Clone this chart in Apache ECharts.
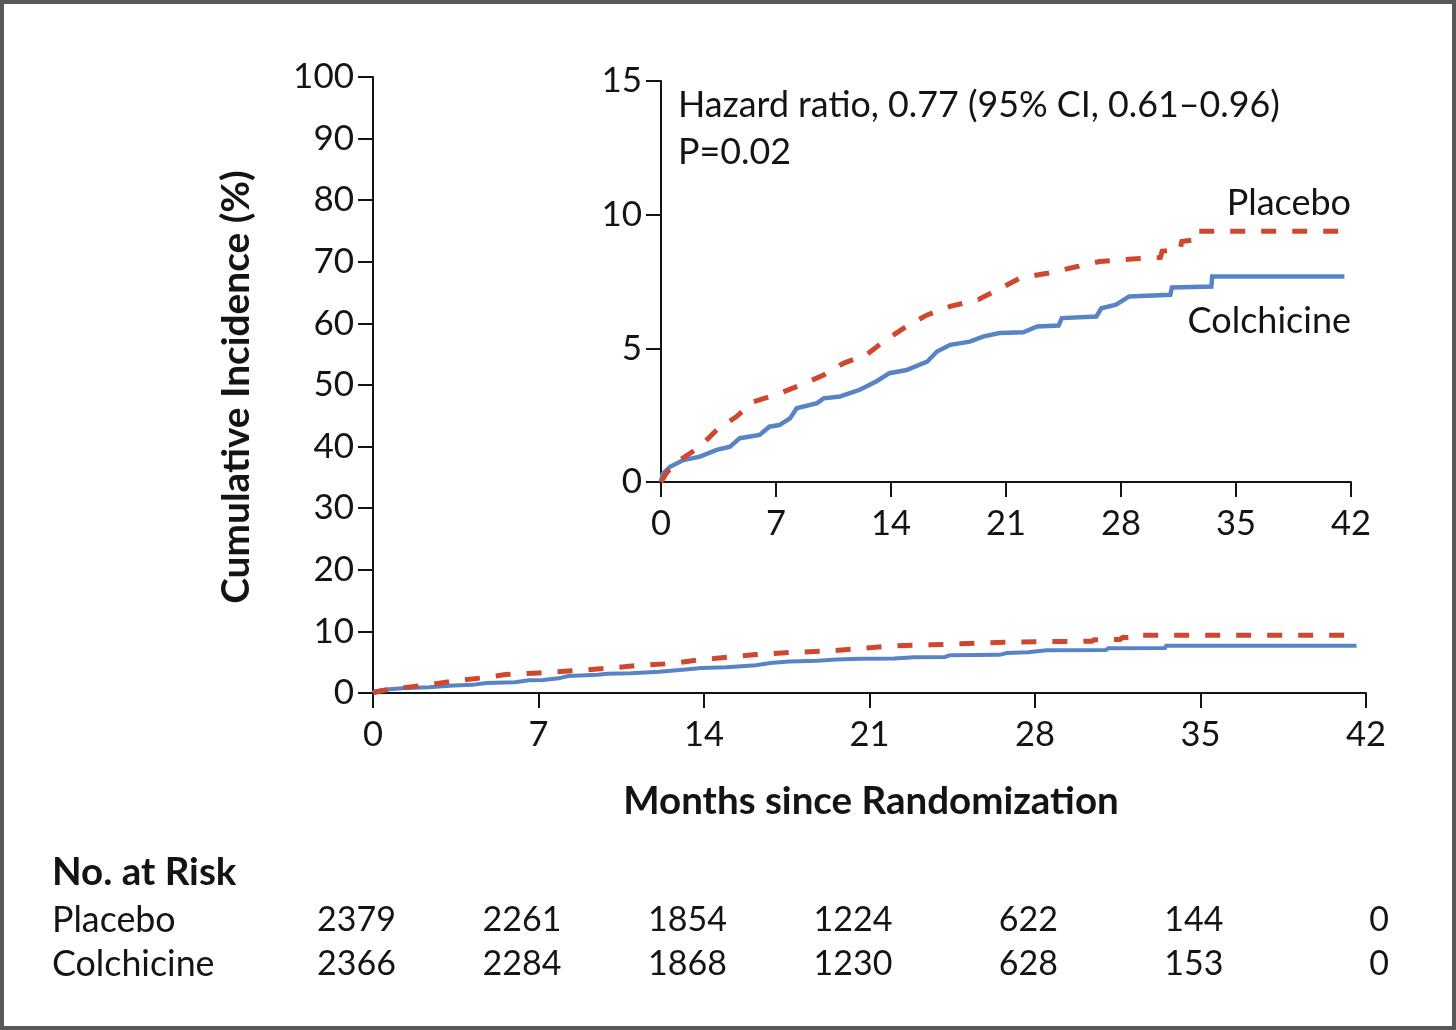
<!DOCTYPE html>
<html>
<head>
<meta charset="utf-8">
<script src="https://cdn.jsdelivr.net/npm/echarts@6/dist/echarts.min.js"></script>
<style>
html,body{margin:0;padding:0;background:#fff;}
#c{width:1456px;height:1030px;}
</style>
</head>
<body>
<div id="c"></div>
<script>
// ---- data (months since randomization, cumulative incidence %) ----
const placebo = [[0,0],[0.3,0.3],[0.7,0.6],[1.16,0.82],[2.37,1.32],[3.39,1.95],[4.6,2.45],[5.6,3.0],[7.0,3.26],[8.5,3.63],[9.9,4.0],[11.1,4.44],[12.5,4.76],[13.7,5.32],[14.95,5.82],[16.2,6.25],[17.6,6.57],[19.3,6.82],[20.5,7.19],[21.85,7.63],[23.6,7.82],[25.2,8.04],[26.7,8.25],[28.7,8.34],[30.4,8.4],[30.5,8.63],[31.6,8.7],[31.7,9.0],[32.4,9.05],[32.45,9.38],[41.6,9.38]];
const colchicine = [[0,0],[0.1,0.3],[0.55,0.57],[1.36,0.82],[2.37,0.95],[3.39,1.2],[4.2,1.32],[4.8,1.64],[6.0,1.76],[6.6,2.07],[7.2,2.13],[7.85,2.38],[8.26,2.76],[9.5,2.95],[9.9,3.13],[10.9,3.2],[12.1,3.45],[13.1,3.76],[13.9,4.07],[14.95,4.19],[16.2,4.5],[16.8,4.88],[17.6,5.13],[18.8,5.25],[19.6,5.44],[20.6,5.57],[22.05,5.6],[22.9,5.82],[24.2,5.85],[24.4,6.13],[26.5,6.19],[26.8,6.5],[27.7,6.63],[28.5,6.94],[31.0,7.0],[31.1,7.28],[33.5,7.31],[33.55,7.69],[41.6,7.69]];
const riskMonths = [0,7,14,21,28,35,42];
const riskPlacebo = [2379,2261,1854,1224,622,144,0];
const riskColchicine = [2366,2284,1868,1230,628,153,0];
const mainYTicks = {min:0,max:100,interval:10};
const insetYTicks = {min:0,max:15,interval:5};
const xTicks = {min:0,max:42,interval:7};
const hazardText = 'Hazard ratio, 0.77 (95% CI, 0.61\u20130.96)';
const pText = 'P=0.02';

const FONT = 'Lato';
const RED = '#d0472f', BLUE = '#5884c6', INK = '#141414';

function xAxisCfg(gi){
  return {type:'value', gridIndex:gi, min:xTicks.min, max:xTicks.max, interval:xTicks.interval,
    axisLine:{lineStyle:{color:INK,width:2}}, axisTick:{inside:false,length:15,lineStyle:{color:INK,width:2}},
    splitLine:{show:false},
    axisLabel:{color:INK,fontFamily:FONT,fontSize:34.5,margin:24}};
}
function yAxisCfg(gi,t){
  return {type:'value', gridIndex:gi, min:t.min, max:t.max, interval:t.interval,
    axisLine:{show:true,lineStyle:{color:INK,width:2}}, axisTick:{show:true,inside:false,length:15,lineStyle:{color:INK,width:2}},
    splitLine:{show:false},
    axisLabel:{color:INK,fontFamily:FONT,fontSize:35,margin:19}};
}
function lineSeries(data,gi,color,dashed,w){
  return {type:'line', xAxisIndex:gi, yAxisIndex:gi, data:data, showSymbol:false, symbol:'none',
    lineStyle:{color:color,width:w,type:dashed?[15,16]:'solid',cap:'butt',join:'miter'}, z:dashed?3:2, animation:false};
}

const chart = echarts.init(document.getElementById('c'), null, {renderer:'canvas'});
chart.setOption({
  backgroundColor:'#fff',
  animation:false,
  grid:[{left:373,top:77,width:993,height:616},{left:661,top:81,width:690,height:401}],
  xAxis:[xAxisCfg(0),xAxisCfg(1)],
  yAxis:[yAxisCfg(0,mainYTicks),yAxisCfg(1,insetYTicks)],
  series:[
    lineSeries(colchicine,0,BLUE,false,4),
    lineSeries(placebo,0,RED,true,5),
    lineSeries(colchicine,1,BLUE,false,4.5),
    lineSeries(placebo,1,RED,true,5)
  ]
});

const g = [];
g.push({type:'rect',shape:{x:2,y:2,width:1452,height:1026},style:{fill:'none',stroke:'#58585a',lineWidth:4},z:100});
function txt(x,y,text,opts){
  g.push({type:'text',x:x,y:y,rotation:opts&&opts.rot||0,
    style:{text:text,fill:INK,font:(opts&&opts.bold?'bold ':'')+(opts&&opts.size||35.5)+'px '+FONT,
    textAlign:opts&&opts.align||'left',textVerticalAlign:'middle'},z:50});
}
txt(678,105,hazardText,{size:35.8});
txt(678,152,pText,{size:35.8});
txt(1351,203,'Placebo',{align:'right',size:36});
txt(1351,321,'Colchicine',{align:'right',size:36});
txt(236,387,'Cumulative Incidence (%)',{align:'center',bold:true,size:38.8,rot:Math.PI/2});
txt(871,802,'Months since Randomization',{align:'center',bold:true,size:38.5});
txt(52,873,'No. at Risk',{bold:true,size:38.5});
txt(52,920,'Placebo',{size:35.8});
txt(52,964,'Colchicine',{size:35.8});
riskMonths.forEach((m,i)=>{
  const px = chart.convertToPixel({xAxisIndex:0},m);
  txt(px+23,920,String(riskPlacebo[i]),{align:'right',size:34});
  txt(px+23,964,String(riskColchicine[i]),{align:'right',size:34});
});
chart.setOption({graphic:g});
</script>
</body>
</html>
